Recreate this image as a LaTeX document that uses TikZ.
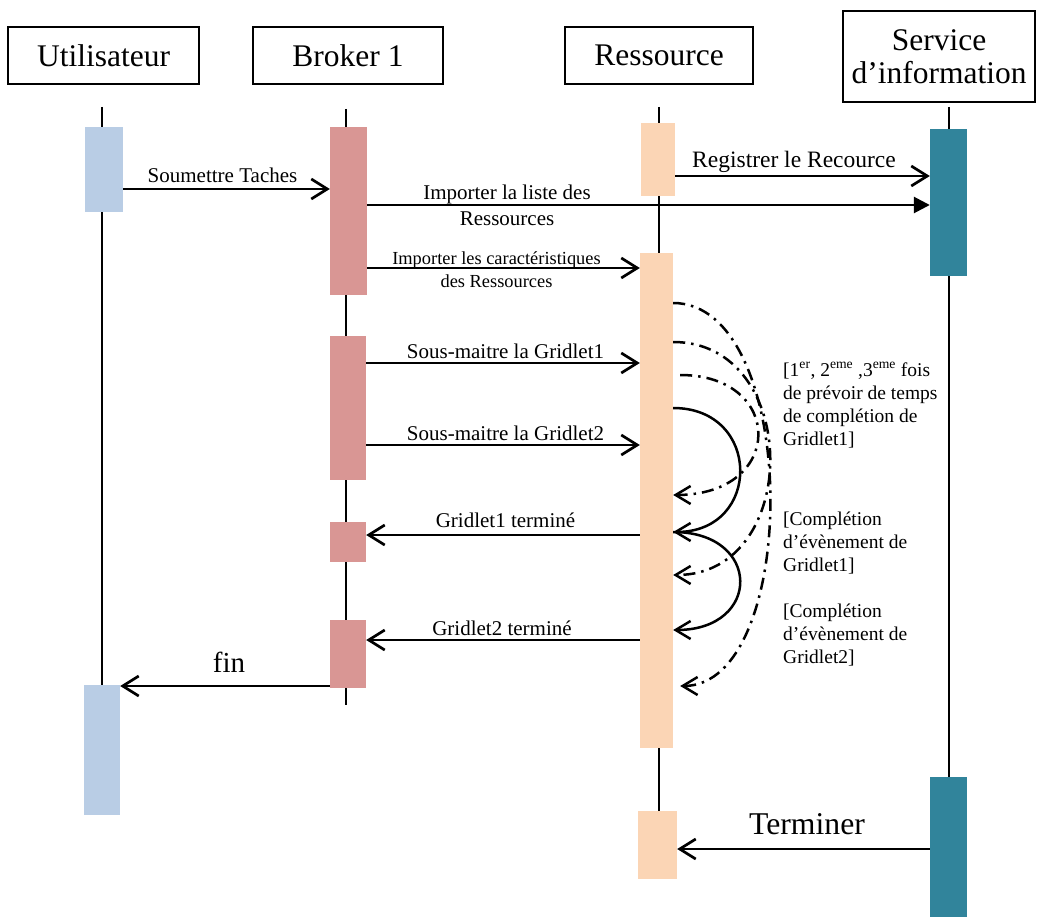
\documentclass[tikz,border=0pt]{standalone}
\usepackage{fontspec}
\setmainfont{Liberation Serif}
\usetikzlibrary{arrows.meta,calc}

\definecolor{userbar}{HTML}{B9CDE5}
\definecolor{brokerbar}{HTML}{D99694}
\definecolor{resbar}{HTML}{FBD5B5}
\definecolor{infobar}{HTML}{31849B}

\begin{document}
\begin{tikzpicture}[x=1pt,y=-1pt,
  head/.style={draw, line width=1.5pt, inner sep=0pt, align=center,
    font=\fontsize{31.5}{33}\selectfont},
  life/.style={line width=2.1pt},
  actbar/.style={inner sep=0pt, draw=none, minimum width=#1},
  msg/.style={line width=2.7pt, line cap=butt,
    -{Straight Barb[length=16pt,width=20pt]}},
  msgfill/.style={line width=2.7pt, -{Triangle[length=16pt,width=16pt]}},
  selfcall/.style={line width=2.5pt,
    -{Straight Barb[length=15pt,width=18pt]}},
  selfdash/.style={selfcall, dash pattern=on 12pt off 6pt on 2.5pt off 6pt},
  lab/.style={inner sep=0pt, anchor=base, font=\fontsize{21}{26}\selectfont},
  note/.style={inner sep=0pt, anchor=north west, align=left,
    font=\fontsize{19.5}{23}\selectfont}
]
\useasboundingbox (0,0) rectangle (1041,917);

% participants
\node[head, minimum width=191pt, minimum height=57pt] (hu) at (103.5,55.5) {Utilisateur};
\node[head, minimum width=190pt, minimum height=57pt] (hb) at (348,55.5) {Broker 1};
\node[head, minimum width=188pt, minimum height=57pt] (hr) at (659,55.5) {Ressource};
\node[head, minimum width=192pt, minimum height=91pt] (hs) at (939,56.5) {Service\\d’information};

% lifelines
\coordinate (lu1) at (102,107);  \coordinate (lu2) at (102,815);
\coordinate (lb1) at (346,109);  \coordinate (lb2) at (346,705);
\coordinate (lr1) at (659,107);  \coordinate (lr2) at (659,811);
\coordinate (ls1) at (949,107);  \coordinate (ls2) at (949,917);
\draw[life] (lu1) -- (lu2);
\draw[life] (lb1) -- (lb2);
\draw[life] (lr1) -- (lr2);
\draw[life] (ls1) -- (ls2);

% activation bars
\node[actbar=38pt, minimum height=85pt, fill=userbar] (u1) at (104,169.5) {};
\node[actbar=36pt, minimum height=130pt, fill=userbar] (u2) at (102,750) {};
\node[actbar=37pt, minimum height=168pt, fill=brokerbar] (b1) at (348.5,211) {};
\node[actbar=36pt, minimum height=144pt, fill=brokerbar] (b2) at (348,408) {};
\node[actbar=36pt, minimum height=40pt, fill=brokerbar] (b3) at (348,542) {};
\node[actbar=36pt, minimum height=68pt, fill=brokerbar] (b4) at (348,654) {};
\node[actbar=34pt, minimum height=73pt, fill=resbar] (r1) at (658,159.5) {};
\node[actbar=33pt, minimum height=495pt, fill=resbar] (r2) at (656.5,500.5) {};
\node[actbar=39pt, minimum height=68pt, fill=resbar] (r3) at (657.5,845) {};
\node[actbar=37pt, minimum height=147pt, fill=infobar] (s1) at (948.5,202.5) {};
\node[actbar=37pt, minimum height=140pt, fill=infobar] (s2) at (948.5,847) {};

% messages
\draw[msg] (u1.east |- 0,189) -- (b1.west |- 0,189);
\node[lab] (t1) at (222.5,183) {Soumettre Taches};

\draw[msg] (r1.east |- 0,176) -- (s1.west |- 0,176);
\node[lab, font=\fontsize{23.5}{28}\selectfont] (t2) at (794,168) {Registrer le Recource};

\draw[msgfill] (b1.east |- 0,205) -- (s1.west |- 0,205);
\node[lab, anchor=north, align=center] (t3) at (507,184.7) {Importer la liste des\\Ressources};

\draw[msg] (b1.east |- 0,268) -- (r2.west |- 0,268);
\node[lab, anchor=north, align=center, font=\fontsize{18.4}{23.5}\selectfont] (t4) at (496.5,251.5)
  {Importer les caractéristiques\\des Ressources};

\draw[msg] (b2.east |- 0,363) -- (r2.west |- 0,363);
\node[lab] (t5) at (505.5,358) {Sous-maitre la Gridlet1};

\draw[msg] (b2.east |- 0,445) -- (r2.west |- 0,445);
\node[lab] (t6) at (505.5,440) {Sous-maitre la Gridlet2};

\draw[msg] (r2.west |- 0,535) -- (b3.east |- 0,535);
\node[lab] (t7) at (505.5,527) {Gridlet1 terminé};

\draw[msg] (r2.west |- 0,640) -- (b4.east |- 0,640);
\node[lab] (t8) at (502,635) {Gridlet2 terminé};

\draw[msg] (b4.west |- 0,686) -- (u2.east |- 0,686);
\node[lab, font=\fontsize{29}{34}\selectfont] (t9) at (229,672) {fin};

\draw[msg] (s2.west |- 0,849) -- (r3.east |- 0,849);
\node[lab, font=\fontsize{31.7}{36}\selectfont] (t10) at (807,834) {Terminer};

% internal calls of the resource
\draw[selfdash] (r2.east |- 0,303) .. controls (801,303) and (801,686) .. ($(r2.east |- 0,686)+(7,0)$);
\draw[selfdash] (r2.east |- 0,342) .. controls (802,342) and (802,575) .. (r2.east |- 0,575);
\draw[selfdash] ($(r2.east |- 0,375)+(7,0)$) .. controls (785,375) and (785,495) .. (r2.east |- 0,495);
\draw[selfcall] (r2.east |- 0,408) .. controls (762,408) and (762,532) .. (r2.east |- 0,532);
\draw[selfcall] (r2.east |- 0,532) .. controls (762,532) and (762,630) .. (r2.east |- 0,630);

% notes
\node[note] (n1) at (783,362)
  {[1\textsuperscript{er}, 2\textsuperscript{eme} ,3\textsuperscript{eme} fois\\de prévoir de temps\\de complétion de\\Gridlet1]};
\node[note] (n2) at (783,511.5) {[Complétion\\d’évènement de\\Gridlet1]};
\node[note] (n3) at (783,603.5) {[Complétion\\d’évènement de\\Gridlet2]};
\end{tikzpicture}
\end{document}
